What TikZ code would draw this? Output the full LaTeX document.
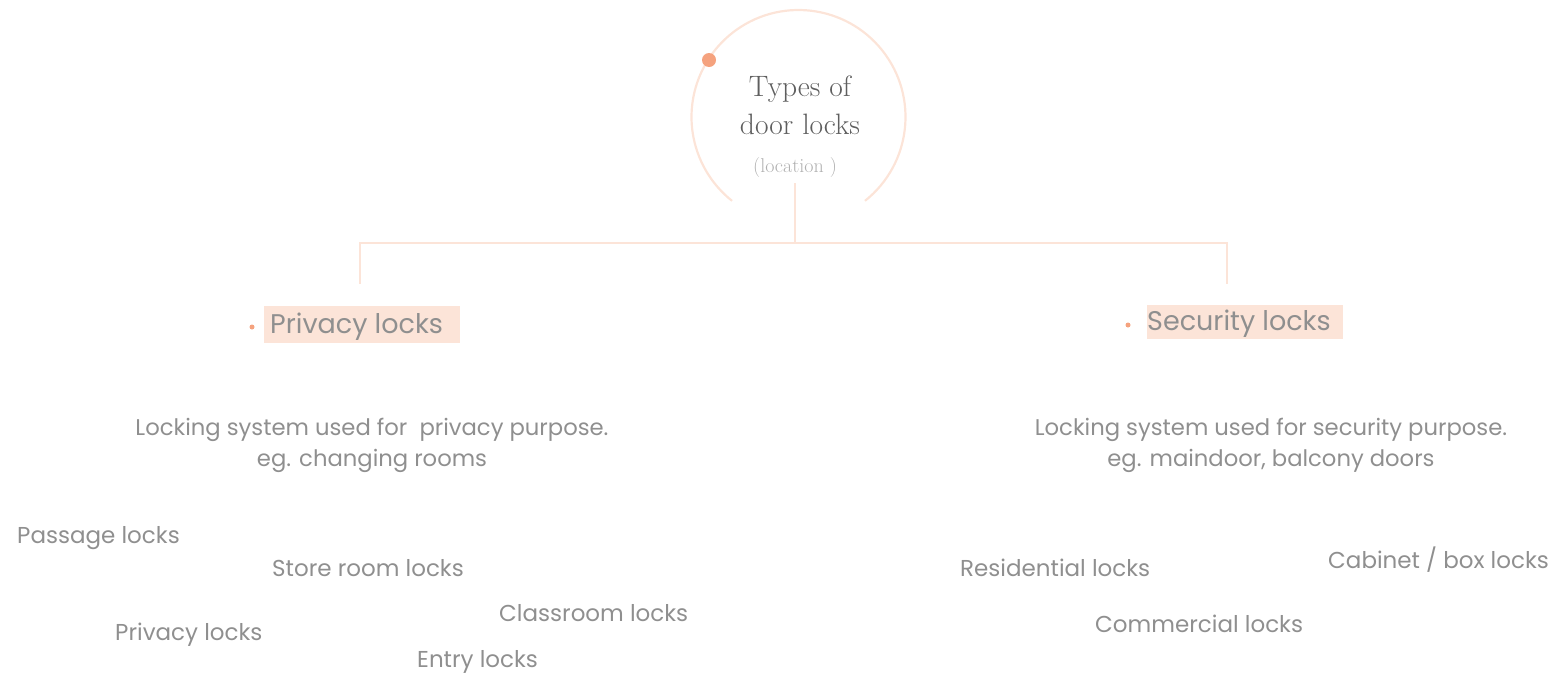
\documentclass[tikz,border=0pt]{standalone}
\usepackage{fontspec}
\setmainfont{Poppins}
\newfontfamily\titlefont{Latin Modern Roman}
\definecolor{peach}{HTML}{FCE4D8}
\definecolor{dotorange}{HTML}{F5A27E}
\definecolor{txtgray}{HTML}{8F8F8F}
\definecolor{titlegray}{HTML}{5E5E5E}
\definecolor{subgray}{HTML}{B0B0B0}
\begin{document}
\begin{tikzpicture}[x=1pt,y=-1pt,
  conn/.style={draw=peach,line width=2.2pt},
  item/.style={anchor=west,inner sep=0pt,text=txtgray,font=\fontsize{23}{26}\selectfont},
  desc/.style={inner sep=0pt,text=txtgray,font=\fontsize{22.7}{31}\selectfont,align=center},
  headbox/.style={fill=peach,draw=none},
  head/.style={anchor=west,inner sep=0pt,text=txtgray,font=\fontsize{27}{30}\selectfont},
  bullet/.style={circle,fill=dotorange,inner sep=0pt,minimum size=5pt}]
\useasboundingbox (0,0) rectangle (1560,675);
% circle arc
\draw[conn] (798.5,117) ++(51.6:107) arc[start angle=51.6,end angle=-231.6,radius=107];
\node[circle,fill=dotorange,inner sep=0pt,minimum size=14pt] (mark) at (709,60) {};
\node[inner sep=0pt,text=titlegray,font=\titlefont\fontsize{29.5}{38}\selectfont,align=center] (title) at (800,105) {Types of\\door locks};
\node[inner sep=0pt,text=subgray,font=\titlefont\fontsize{20}{22}\selectfont] (loc) at (795,168) {(location )};
\coordinate (stem) at (795,183);
\coordinate (hub) at (795,243);
\coordinate (lt) at (360,243);
\coordinate (rt) at (1227,243);
\coordinate (lb) at (360,284);
\coordinate (rb) at (1227,284);
\draw[conn] (stem) -- (hub);
\draw[conn] (lb) -- (lt) -- (rt) -- (rb);
% headers
\fill[headbox] (264,306) rectangle (460,343);
\node[head] (priv) at (270,326.5) {Privacy locks};
\node[bullet] (pdot) at (252,327) {};
\fill[headbox] (1147,305) rectangle (1343,339);
\node[head] (sec) at (1147,323.5) {Security locks};
\node[bullet] (sdot) at (1128,325) {};
% descriptions
\node[desc] (pdesc) at (372,445) {Locking system used for\ \ privacy purpose.\\eg. changing rooms};
\node[desc] (sdesc) at (1271,445) {Locking system used for security purpose.\\eg. maindoor, balcony doors};
% items
\node[item] (i1) at (17,538) {Passage locks};
\node[item] (i2) at (272,568) {Store room locks};
\node[item] (i3) at (115,635) {Privacy locks};
\node[item] (i4) at (499,613) {Classroom locks};
\node[item] (i5) at (417,662) {Entry locks};
\node[item] (i6) at (960,568) {Residential locks};
\node[item] (i7) at (1328,560) {Cabinet / box locks};
\node[item] (i8) at (1095,624) {Commercial locks};
\end{tikzpicture}
\end{document}
